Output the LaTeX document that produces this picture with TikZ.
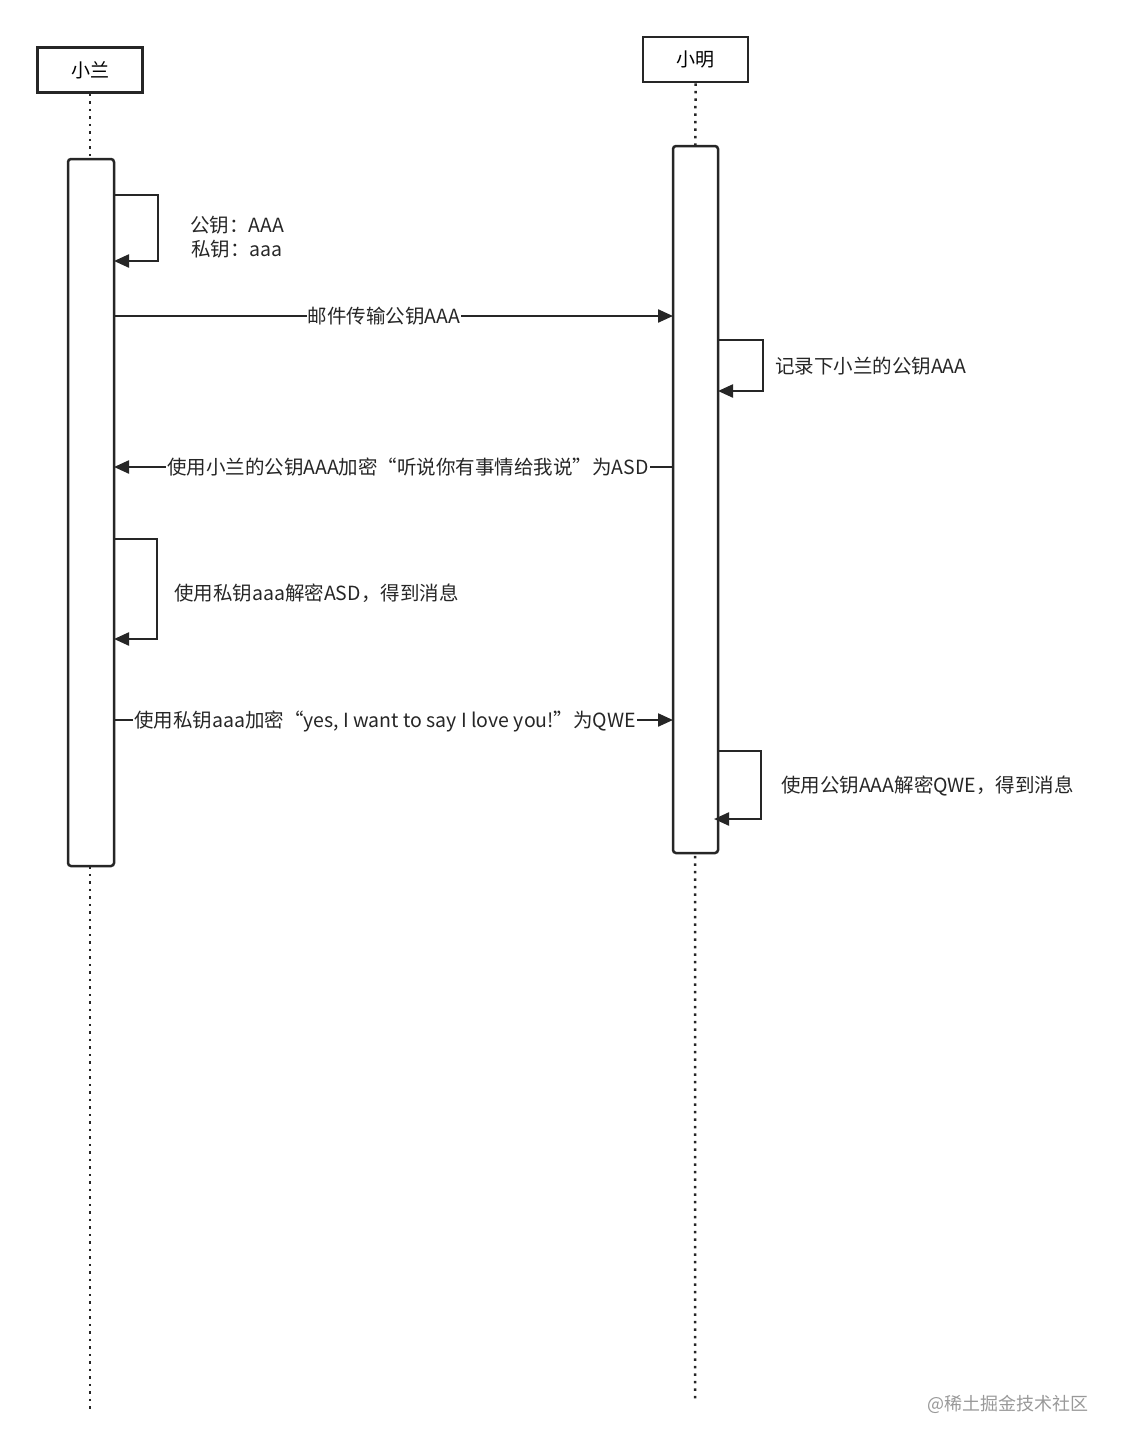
\documentclass[tikz,border=0pt]{standalone}
\usepackage{fontspec}
\setmainfont{Noto Sans CJK SC}
\usetikzlibrary{arrows.meta}
\begin{document}
\begin{tikzpicture}[x=1pt,y=-1pt,
  actor/.style={draw=black!85,line width=2.5pt,minimum width=105pt,minimum height=45pt,inner sep=0pt,font=\fontsize{19}{22}\selectfont},
  act/.style={draw=black!85,line width=2.5pt,rounded corners=3pt,fill=white},
  life/.style={black!85,line width=2.5pt,dash pattern=on 2.5pt off 5pt},
  msg/.style={black!85,line width=2.3pt,-{Triangle[length=15pt,width=13pt]}},
  lbl/.style={font=\fontsize{19.5}{23}\selectfont,text=black!85,inner sep=1pt},
  wlbl/.style={lbl,fill=white}]
\useasboundingbox (0,0) rectangle (1123,1449);
\node[actor] (lan) at (90,70) {小兰};
\node[actor] (ming) at (695.5,59.5) {小明};
\coordinate (lanend) at (90,1410);
\coordinate (mingend) at (695,1400);
\draw[life] (lan.south) -- (lanend);
\draw[life] (ming.south) -- (mingend);
\draw[act] (68,159) rectangle (114,866);
\draw[act] (673,146) rectangle (718,853);
\coordinate (a1) at (114,195); \coordinate (a2) at (114,261);
\draw[msg] (a1) -- (158,195) -- (158,261) -- (a2);
\node[lbl] (t1) at (237,225) {公钥：AAA};
\node[lbl] (t2) at (237,249) {私钥：aaa};
\coordinate (m1s) at (114,316); \coordinate (m1e) at (673,316);
\draw[msg] (m1s) -- (m1e);
\node[wlbl] (l1) at (384,316) {邮件传输公钥AAA};
\coordinate (b1) at (718,340); \coordinate (b2) at (718,391);
\draw[msg] (b1) -- (763,340) -- (763,391) -- (b2);
\node[lbl,anchor=west] (l2) at (774,366) {记录下小兰的公钥AAA};
\coordinate (m2s) at (673,467); \coordinate (m2e) at (114,467);
\draw[msg] (m2s) -- (m2e);
\node[wlbl] (l3) at (408,467) {使用小兰的公钥AAA加密“听说你有事情给我说”为ASD};
\coordinate (c1) at (114,539); \coordinate (c2) at (114,639);
\draw[msg] (c1) -- (157,539) -- (157,639) -- (c2);
\node[lbl,anchor=west] (l4) at (173,593) {使用私钥aaa解密ASD，得到消息};
\coordinate (m3s) at (114,720); \coordinate (m3e) at (673,720);
\draw[msg] (m3s) -- (m3e);
\node[wlbl] (l5) at (385,721) {使用私钥aaa加密“yes, I want to say I love you!”为QWE};
\coordinate (d1) at (718,751); \coordinate (d2) at (714,819);
\draw[msg] (d1) -- (761,751) -- (761,819) -- (d2);
\node[lbl,anchor=west] (l6) at (780,786) {使用公钥AAA解密QWE，得到消息};
\node[lbl,text=black!40,font=\fontsize{18}{21}\selectfont] (wm) at (1008,1404) {@稀土掘金技术社区};
\end{tikzpicture}
\end{document}
